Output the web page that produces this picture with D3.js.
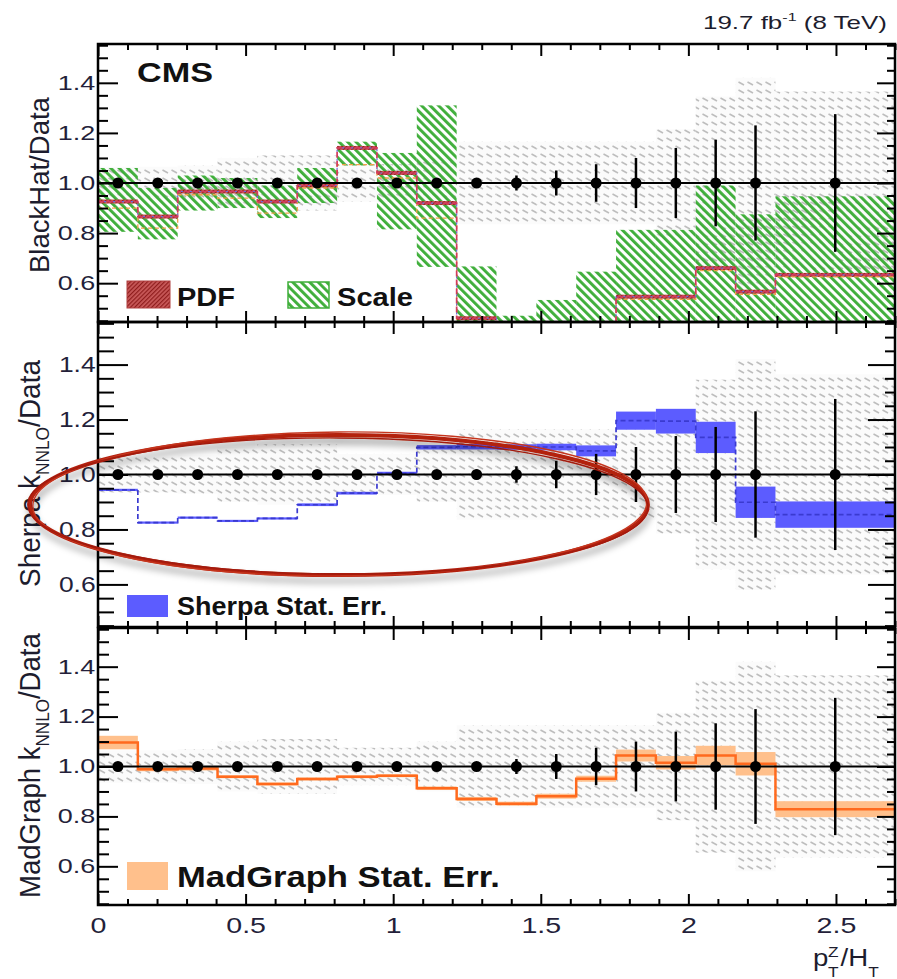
<!DOCTYPE html>
<html>
<head>
<meta charset="utf-8">
<script src="https://cdn.jsdelivr.net/npm/d3@7"></script>
<style>
  html, body { margin: 0; padding: 0; background: #fff; }
  svg { display: block; font-family: 'Liberation Sans', Arial, Helvetica, sans-serif; }
</style>
</head>
<body>
<svg id="chart" width="897" height="979"></svg>
<script>
// bins in pT(Z)/HT
const binEdges = [0, 0.135, 0.27, 0.405, 0.54, 0.675, 0.81, 0.945, 1.08, 1.215, 1.35, 1.485, 1.62, 1.755, 1.89, 2.025, 2.16, 2.295, 2.7]
const binCenters = [0.0675, 0.2025, 0.3375, 0.4725, 0.6075, 0.7425, 0.8775, 1.0125, 1.1475, 1.2825, 1.4175, 1.5525, 1.6875, 1.8225, 1.9575, 2.0925, 2.2275, 2.4975]

// data (ratio to itself) with stat and syst uncertainty
const dataRatio = [1, 1, 1, 1, 1, 1, 1, 1, 1, 1, 1, 1, 1, 1, 1, 1, 1, 1]
const dataStatErr = [0.004, 0.004, 0.005, 0.005, 0.006, 0.007, 0.008, 0.01, 0.012, 0.018, 0.03, 0.05, 0.075, 0.1, 0.14, 0.173, 0.23, 0.275]
const dataSysErr = [0.065, 0.065, 0.07, 0.1, 0.11, 0.11, 0.075, 0.075, 0.1, 0.165, 0.165, 0.165, 0.165, 0.165, 0.215, 0.345, 0.42, 0.365]

// BlackHat / Data
const bhCentral = [0.926, 0.866, 0.966, 0.966, 0.926, 0.99, 1.14, 1.04, 0.92, 0.46, 0.40, 0.38, 0.40, 0.546, 0.546, 0.66, 0.566, 0.633]
const bhAlt = [0.90, 0.82, 0.953, 0.94, 0.88, 0.98, 1.073, 1.02, 0.86, 0.44, 0.38, 0.36, 0.38, 0.535, 0.535, 0.65, 0.555, 0.625]
const bhPdfErr = [0.008, 0.008, 0.008, 0.008, 0.008, 0.008, 0.008, 0.008, 0.008, 0.008, 0.008, 0.008, 0.008, 0.008, 0.008, 0.008, 0.008, 0.008]
const bhScaleLo = [0.805, 0.775, 0.89, 0.90, 0.86, 0.92, 1.07, 0.815, 0.665, 0.35, 0.35, 0.35, 0.35, 0.35, 0.35, 0.35, 0.35, 0.35]
const bhScaleHi = [1.06, 0.98, 1.03, 1.02, 0.99, 1.06, 1.165, 1.12, 1.31, 0.667, 0.47, 0.533, 0.646, 0.813, 0.813, 0.99, 0.875, 0.947]

// Sherpa kNNLO / Data
const sherpaVal = [0.944, 0.825, 0.843, 0.831, 0.84, 0.89, 0.932, 1.004, 1.099, 1.101, 1.10, 1.10, 1.086, 1.196, 1.194, 1.135, 0.899, 0.854]
const sherpaErr = [0.004, 0.004, 0.004, 0.004, 0.004, 0.005, 0.005, 0.006, 0.008, 0.01, 0.01, 0.012, 0.02, 0.033, 0.045, 0.057, 0.057, 0.048]

// MadGraph kNNLO / Data
const mgVal = [1.096, 0.989, 0.992, 0.959, 0.93, 0.95, 0.959, 0.963, 0.913, 0.87, 0.851, 0.881, 0.951, 1.044, 1.015, 1.044, 1.011, 0.829]
const mgErr = [0.027, 0.008, 0.008, 0.006, 0.006, 0.006, 0.006, 0.006, 0.007, 0.008, 0.008, 0.01, 0.012, 0.024, 0.027, 0.039, 0.047, 0.032]

// axis ticks
const xMajor = [0, 0.5, 1, 1.5, 2, 2.5]
const yMajor = [0.6, 0.8, 1.0, 1.2, 1.4]
// red hand-drawn ellipse on the Sherpa panel: cx, cy, rx, ry in data units
const sherpaCircle = [0.816, 0.889, 1.047, 0.255]

const left = 98
const right = 895
const yDomain = [0.445, 1.555]

const svg = d3.select('#chart')
const defs = svg.append('defs')

const x = d3.scaleLinear().domain([0, 2.7]).range([left, right])
const xMinor = d3.range(0, 28).map(k => k / 10).filter(v => !xMajor.some(m => Math.abs(m - v) < 1e-6))
const yMinor = d3.range(9, 32).map(k => k * 0.05).filter(v => !yMajor.some(m => Math.abs(m - v) < 1e-6))

// patterns
const pGray = defs.append('pattern').attr('id', 'sysHatch')
  .attr('patternUnits', 'userSpaceOnUse').attr('width', 9).attr('height', 8)
pGray.append('rect').attr('width', 9).attr('height', 8).attr('fill', '#fbfbfb')
pGray.append('line').attr('x1', 0.5).attr('y1', 2).attr('x2', 6).attr('y2', 5)
  .attr('stroke', '#bdbdbd').attr('stroke-width', 1.5)

const pGreen = defs.append('pattern').attr('id', 'scaleHatch')
  .attr('patternUnits', 'userSpaceOnUse').attr('width', 6).attr('height', 6)
  .attr('patternTransform', 'rotate(-45)')
pGreen.append('rect').attr('width', 2.9).attr('height', 6).attr('fill', '#3fae3a')

const pRed = defs.append('pattern').attr('id', 'pdfHatch')
  .attr('patternUnits', 'userSpaceOnUse').attr('width', 3).attr('height', 3)
  .attr('patternTransform', 'rotate(45)')
pRed.append('rect').attr('width', 3).attr('height', 3).attr('fill', '#c95a5a')
pRed.append('rect').attr('width', 1.2).attr('height', 3).attr('fill', '#8e1c1c')

const shadow = defs.append('filter').attr('id', 'shadow')
  .attr('x', '-10%').attr('y', '-30%').attr('width', '120%').attr('height', '160%')
shadow.append('feDropShadow').attr('dx', 1).attr('dy', 6).attr('stdDeviation', 3.5)
  .attr('flood-color', '#000').attr('flood-opacity', 0.35)

// helpers
const bandRects = (g, y, lo, hi, fill) => {
  g.append('g').selectAll('rect').data(binCenters).enter().append('rect')
    .attr('x', (d, i) => x(binEdges[i]))
    .attr('width', (d, i) => x(binEdges[i + 1]) - x(binEdges[i]))
    .attr('y', (d, i) => y(hi[i]))
    .attr('height', (d, i) => y(lo[i]) - y(hi[i]))
    .attr('fill', fill)
}

const stepLine = (g, y, vals, color, width, dash) => {
  const pts = []
  vals.forEach((v, i) => { pts.push([binEdges[i], v]); pts.push([binEdges[i + 1], v]) })
  const line = d3.line().x(d => x(d[0])).y(d => y(d[1]))
  const path = g.append('path').attr('d', line(pts))
    .attr('fill', 'none').attr('stroke', color).attr('stroke-width', width)
  if (dash) path.attr('stroke-dasharray', dash)
  return path
}

// text built from parts, stretched to a given length
const addText = (parent, parts, opts) => {
  const g = parent.append('g')
  const t = g.append('text')
    .attr('font-size', opts.size)
    .attr('font-weight', opts.weight || 'normal')
    .attr('fill', opts.color || '#111')
  let shift = 0
  parts.forEach(p => {
    const part = typeof p === 'string' ? { t: p } : p
    const target = part.sub ? opts.size * 0.32 : part.sup ? -opts.size * 0.42 : 0
    const sp = t.append('tspan').text(part.t)
      .attr('dy', target - shift)
      .attr('font-size', part.sub || part.sup ? opts.size * 0.62 : opts.size)
    if (part.dx) sp.attr('dx', part.dx)
    shift = target
  })
  const w = t.node().getComputedTextLength()
  const sx = opts.len ? opts.len / w : (opts.sx || 1)
  if (opts.rotate) {
    g.attr('transform', `translate(${opts.x},${opts.y}) rotate(-90) scale(${sx},1)`)
  } else {
    g.attr('transform', `translate(${opts.x},${opts.y}) scale(${sx},1)`)
  }
  return g
}

const panels = [
  { top: 44, bottom: 322, tl: [20, 10], tr: [18, 8], labelSize: 20, labelSx: 1.35 },
  { top: 322, bottom: 627, tl: [30, 16], tr: [27, 10], labelSize: 22, labelSx: 1.2 },
  { top: 628, bottom: 905, tl: [20, 11], tr: [18, 8], labelSize: 20, labelSx: 1.35 }
]

const sysLo = dataRatio.map((d, i) => d - dataSysErr[i])
const sysHi = dataRatio.map((d, i) => d + dataSysErr[i])

const styleAxis = (ax) => {
  ax.select('.domain').remove()
  ax.attr('font-family', null).attr('font-size', null)
  ax.selectAll('line').attr('stroke', '#000').attr('stroke-width', 2)
}

const yScales = panels.map((p, i) => {
  const y = d3.scaleLinear().domain(yDomain).range([p.bottom, p.top])
  defs.append('clipPath').attr('id', 'clip' + i).append('rect')
    .attr('x', left).attr('y', p.top).attr('width', right - left).attr('height', p.bottom - p.top)
  const g = svg.append('g').attr('clip-path', `url(#clip${i})`)

  bandRects(g, y, sysLo, sysHi, 'url(#sysHatch)')

  if (i === 0) {
    bandRects(g, y, bhScaleLo, bhScaleHi, 'url(#scaleHatch)')
    bandRects(g, y, bhCentral.map((v, k) => v - bhPdfErr[k]), bhCentral.map((v, k) => v + bhPdfErr[k]), 'url(#pdfHatch)')
    stepLine(g, y, bhAlt, '#f0a048', 1.3, '4,3')
    stepLine(g, y, bhCentral, '#d23a5c', 1.7, '6,3')
    stepLine(g, y, bhCentral, '#6a6ae0', 1.2, '2,7').attr('stroke-dashoffset', 3)
  } else if (i === 1) {
    bandRects(g, y, sherpaVal.map((v, k) => v - sherpaErr[k]), sherpaVal.map((v, k) => v + sherpaErr[k]), '#5c5cff')
    stepLine(g, y, sherpaVal, '#3a3ad0', 1.7, '5,3')
  } else {
    bandRects(g, y, mgVal.map((v, k) => v - mgErr[k]), mgVal.map((v, k) => v + mgErr[k]), '#ffc08c')
    stepLine(g, y, mgVal, '#ff6a1e', 2.5)
  }

  // unity line
  g.append('line').attr('x1', left).attr('x2', right).attr('y1', y(1)).attr('y2', y(1))
    .attr('stroke', '#000').attr('stroke-width', 2)

  // data points
  g.append('g').selectAll('line').data(dataRatio).enter().append('line')
    .attr('x1', (d, k) => x(binCenters[k])).attr('x2', (d, k) => x(binCenters[k]))
    .attr('y1', (d, k) => y(d + dataStatErr[k])).attr('y2', (d, k) => y(d - dataStatErr[k]))
    .attr('stroke', '#000').attr('stroke-width', 2.5)
  g.append('g').selectAll('circle').data(dataRatio).enter().append('circle')
    .attr('cx', (d, k) => x(binCenters[k])).attr('cy', d => y(d)).attr('r', 5.5)
    .attr('fill', '#000')

  // axes
  const axL = svg.append('g').attr('transform', `translate(${left},0)`)
    .call(d3.axisLeft(y).tickValues(yMajor).tickSize(-p.tl[0]).tickPadding(2).tickFormat(d3.format('.1f')))
  styleAxis(axL)
  axL.selectAll('text').attr('font-size', p.labelSize).attr('fill', '#241f3a')
    .attr('transform', `scale(${p.labelSx},1)`)
  const axLm = svg.append('g').attr('transform', `translate(${left},0)`)
    .call(d3.axisLeft(y).tickValues(yMinor).tickSize(-p.tl[1]).tickFormat(() => ''))
  styleAxis(axLm)
  const axR = svg.append('g').attr('transform', `translate(${right},0)`)
    .call(d3.axisRight(y).tickValues(yMajor).tickSize(-p.tr[0]).tickFormat(() => ''))
  styleAxis(axR)
  const axRm = svg.append('g').attr('transform', `translate(${right},0)`)
    .call(d3.axisRight(y).tickValues(yMinor).tickSize(-p.tr[1]).tickFormat(() => ''))
  styleAxis(axRm)

  const axT = svg.append('g').attr('transform', `translate(0,${p.top})`)
    .call(d3.axisTop(x).tickValues(xMajor).tickSize(-12).tickFormat(() => ''))
  styleAxis(axT)
  const axTm = svg.append('g').attr('transform', `translate(0,${p.top})`)
    .call(d3.axisTop(x).tickValues(xMinor).tickSize(-6).tickFormat(() => ''))
  styleAxis(axTm)
  const axB = svg.append('g').attr('transform', `translate(0,${p.bottom})`)
    .call(d3.axisBottom(x).tickValues(xMajor).tickSize(-11).tickPadding(12)
      .tickFormat(i === 2 ? (d => String(d)) : () => ''))
  styleAxis(axB)
  axB.selectAll('text').attr('font-size', 22).attr('fill', '#241f3a').attr('transform', 'scale(1.3,1)')
  const axBm = svg.append('g').attr('transform', `translate(0,${p.bottom})`)
    .call(d3.axisBottom(x).tickValues(xMinor).tickSize(-6).tickFormat(() => ''))
  styleAxis(axBm)

  svg.append('rect').attr('x', left).attr('y', p.top)
    .attr('width', right - left).attr('height', p.bottom - p.top)
    .attr('fill', 'none').attr('stroke', '#000').attr('stroke-width', 2.5)
  return y
})

// header texts
addText(svg, ['19.7 fb', { t: '-1', sup: true }, ' (8 TeV)'], { x: 703, y: 29, size: 19, len: 184, color: '#1d1d2e' })
addText(svg, ['CMS'], { x: 137, y: 82, size: 27, weight: 'bold', len: 76 })

// y titles
addText(svg, ['BlackHat/Data'], { x: 49, y: 273, size: 28, len: 176, rotate: true, color: '#1d1d2e' })
addText(svg, ['Sherpa k', { t: 'NNLO', sub: true }, '/Data'], { x: 40, y: 587, size: 29, len: 227, rotate: true, color: '#1d1d2e' })
addText(svg, ['MadGraph k', { t: 'NNLO', sub: true }, '/Data'], { x: 40, y: 898, size: 29, len: 265, rotate: true, color: '#1d1d2e' })

// x title
const xt = svg.append('g').attr('transform', 'translate(813,966) scale(1.15,1)').attr('fill', '#1d1d2e')
xt.append('text').attr('font-size', 24).text('p')
xt.append('text').attr('x', 13).attr('y', -9).attr('font-size', 15).text('Z')
xt.append('text').attr('x', 13).attr('y', 11).attr('font-size', 15).text('T')
xt.append('text').attr('x', 24).attr('font-size', 24).text('/H')
xt.append('text').attr('x', 48).attr('y', 11).attr('font-size', 15).text('T')

// legends
svg.append('rect').attr('x', 127).attr('y', 281).attr('width', 43).attr('height', 27)
  .attr('fill', 'url(#pdfHatch)').attr('stroke', '#b04040').attr('stroke-width', 1)
addText(svg, ['PDF'], { x: 177, y: 306, size: 25, weight: 'bold', len: 58 })
svg.append('rect').attr('x', 288).attr('y', 282).attr('width', 41).attr('height', 26)
  .attr('fill', 'url(#scaleHatch)').attr('stroke', '#3fae3a').attr('stroke-width', 1.5)
addText(svg, ['Scale'], { x: 337, y: 306, size: 25, weight: 'bold', len: 76 })

svg.append('rect').attr('x', 127).attr('y', 595).attr('width', 41).attr('height', 22).attr('fill', '#5c5cff')
addText(svg, ['Sherpa Stat. Err.'], { x: 177, y: 615, size: 25, weight: 'bold', len: 210 })

svg.append('rect').attr('x', 127).attr('y', 862).attr('width', 41).attr('height', 28).attr('fill', '#ffc08c')
addText(svg, ['MadGraph Stat. Err.'], { x: 177, y: 887, size: 29, weight: 'bold', len: 323 })

// hand-drawn red ellipse on the Sherpa panel
const yS = yScales[1]
const ecx = x(sherpaCircle[0])
const ecy = yS(sherpaCircle[1])
const erx = x(sherpaCircle[0] + sherpaCircle[2]) - ecx
const ery = yS(sherpaCircle[1] - sherpaCircle[3]) - ecy
const eg = svg.append('g').attr('filter', 'url(#shadow)')
eg.append('ellipse').attr('cx', ecx).attr('cy', ecy).attr('rx', erx).attr('ry', ery)
  .attr('fill', 'none').attr('stroke', '#b3200e').attr('stroke-width', 4)
eg.append('ellipse').attr('cx', ecx + 1).attr('cy', ecy - 1).attr('rx', erx - 2).attr('ry', ery + 2)
  .attr('transform', `rotate(-0.4,${ecx},${ecy})`)
  .attr('fill', 'none').attr('stroke', '#c5351f').attr('stroke-width', 1.4)
eg.append('ellipse').attr('cx', ecx - 1).attr('cy', ecy + 1).attr('rx', erx + 1).attr('ry', ery - 2)
  .attr('transform', `rotate(0.3,${ecx},${ecy})`)
  .attr('fill', 'none').attr('stroke', '#a11a0a').attr('stroke-width', 1.4)
</script>
</body>
</html>
